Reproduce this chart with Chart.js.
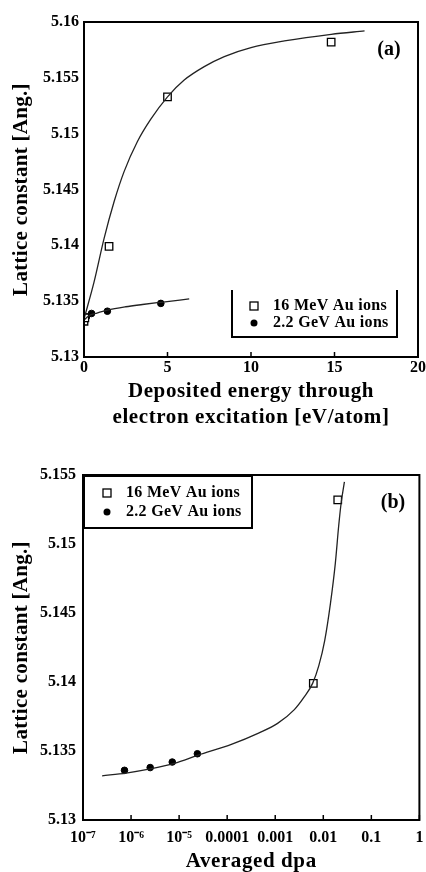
<!DOCTYPE html>
<html>
<head>
<meta charset="utf-8">
<script src="https://cdn.jsdelivr.net/npm/chart.js"></script>
<style>
  body { margin: 0; background: #fff; }
  canvas { display: block; }
</style>
</head>
<body>
<canvas id="chartA" width="426" height="436"></canvas>
<canvas id="chartB" width="426" height="436"></canvas>
<script>
// ---- panel (a) data ----
const energyMeV = [0, 0.05, 1.5, 5.0, 14.8];
const latticeMeV = [5.1332, 5.1335, 5.1399, 5.1533, 5.1582];
const energyGeV = [0, 0.15, 0.45, 1.4, 4.6];
const latticeGeV = [5.1334, 5.1336, 5.1339, 5.1341, 5.1348];
const fitMeVx = [0, 0.6, 1.2, 1.8, 2.4, 3.2, 4.0, 5.0, 6.0, 7.2, 8.4, 10, 12, 14.8, 16.8];
const fitMeVy = [5.1334, 5.1367, 5.1406, 5.1439, 5.1466, 5.1493, 5.1513, 5.1533, 5.1548, 5.1560, 5.1569, 5.1577, 5.1583, 5.1589, 5.1592];
const fitGeVx = [0, 0.3, 0.7, 1.4, 2.5, 3.5, 4.6, 6.3];
const fitGeVy = [5.1333, 5.1337, 5.1339, 5.1342, 5.1345, 5.1347, 5.1349, 5.1352];
const energyTicks = [0, 5, 10, 15, 20];
const latticeTicksA = [5.13, 5.135, 5.14, 5.145, 5.15, 5.155, 5.16];
const latticeLabelsA = ["5.13", "5.135", "5.14", "5.145", "5.15", "5.155", "5.16"];

// ---- panel (b) data ----
const dpaMeV = [0.0062, 0.020];
const latticeMeVb = [5.1399, 5.1532];
const dpaGeV = [7.3e-7, 2.5e-6, 7.2e-6, 2.4e-5];
const latticeGeVb = [5.1336, 5.1338, 5.1342, 5.1348];
const fitDpaX = [2.5e-7, 7.9e-7, 2.5e-6, 7.9e-6, 2.5e-5, 1.26e-4, 4.5e-4, 1.12e-3, 2.5e-3, 3.98e-3, 6.0e-3, 8.1e-3, 0.0107, 0.0141, 0.0178, 0.0209, 0.0234, 0.0275];
const fitDpaY = [5.1332, 5.1334, 5.1337, 5.1341, 5.1347, 5.1355, 5.1363, 5.1370, 5.1380, 5.1389, 5.1399, 5.1412, 5.1430, 5.1457, 5.1486, 5.1513, 5.1529, 5.1545];
const dpaTicks = [1e-7, 1e-6, 1e-5, 1e-4, 1e-3, 1e-2, 1e-1, 1];
const dpaTickLabels = ["10\u207B\u2077", "10\u207B\u2076", "10\u207B\u2075", "0.0001", "0.001", "0.01", "0.1", "1"];
const latticeTicksB = [5.13, 5.135, 5.14, 5.145, 5.15, 5.155];
const latticeLabelsB = ["5.13", "5.135", "5.14", "5.145", "5.15", "5.155"];

const legendLabels = ["16 MeV Au ions", "2.2 GeV Au ions"];

const SERIF = "'Liberation Serif', 'Times New Roman', serif";
const tickFont = { family: SERIF, size: 16, weight: "bold" };

const pts = (xs, ys) => xs.map((x, i) => ({ x, y: ys[i] }));

function fixedAxis(size, isX) {
  return (scale) => {
    if (isX) scale.height = size; else scale.width = size;
    scale.paddingLeft = 0; scale.paddingRight = 0;
    scale.paddingTop = 0; scale.paddingBottom = 0;
  };
}

// frame, inward ticks, axis titles, panel tag and legend
function decor(cfg) {
  return {
    id: "decor",
    afterDraw(chart) {
      const { ctx, chartArea: a, scales } = chart;
      ctx.save();
      ctx.strokeStyle = "#000";
      ctx.lineWidth = 2;
      ctx.strokeRect(a.left, a.top, a.right - a.left, a.bottom - a.top);
      // inward x ticks
      ctx.lineWidth = 1.5;
      scales.x.ticks.forEach((t) => {
        const px = scales.x.getPixelForValue(t.value);
        ctx.beginPath();
        ctx.moveTo(px, a.bottom);
        ctx.lineTo(px, a.bottom - 5);
        ctx.stroke();
      });
      ctx.fillStyle = "#000";
      ctx.textAlign = "center";
      ctx.textBaseline = "middle";
      ctx.letterSpacing = "0.6px";
      ctx.font = "bold 21px " + SERIF;
      const cx = (a.left + a.right) / 2;
      cfg.xTitle.forEach((line, i) => ctx.fillText(line, cx, cfg.xTitleY + i * 26));
      ctx.save();
      ctx.translate(22, (a.top + a.bottom) / 2);
      ctx.rotate(-Math.PI / 2);
      ctx.letterSpacing = "0.3px";
      ctx.fillText("Lattice constant [Ang.]", 0, 0);
      ctx.restore();
      ctx.letterSpacing = "0px";
      ctx.font = "bold 20px " + SERIF;
      ctx.fillText(cfg.tag, cfg.tagX, cfg.tagY);

      // legend
      const L = cfg.legend;
      ctx.fillStyle = "#fff";
      ctx.fillRect(L.x0, L.y0, L.x1 - L.x0, L.y1 - L.y0);
      ctx.strokeStyle = "#000";
      ctx.lineWidth = 2;
      ctx.beginPath();
      if (L.top) { ctx.moveTo(L.x0, L.y0); ctx.lineTo(L.x1, L.y0); }
      ctx.moveTo(L.x0, L.y0); ctx.lineTo(L.x0, L.y1); ctx.lineTo(L.x1, L.y1); ctx.lineTo(L.x1, L.y0);
      ctx.stroke();
      ctx.lineWidth = 1.3;
      ctx.strokeRect(L.mx - 4, L.rows[0] - 4, 8, 8);
      ctx.fillStyle = "#000";
      ctx.beginPath();
      ctx.arc(L.mx, L.rows[1], 3.5, 0, Math.PI * 2);
      ctx.fill();
      ctx.font = "bold 16px " + SERIF;
      ctx.letterSpacing = "0.3px";
      ctx.textAlign = "left";
      legendLabels.forEach((s, i) => ctx.fillText(s, L.tx, L.rows[i]));
      ctx.restore();
    }
  };
}

const lineStyle = { showLine: true, pointRadius: 0, borderColor: "#222", borderWidth: 1.3, cubicInterpolationMode: "monotone", fill: false };
const squareStyle = { pointStyle: "rect", pointRadius: 5.3, backgroundColor: "#fff", borderColor: "#000", pointBorderWidth: 1.3, showLine: false };
const dotStyle = { pointStyle: "circle", pointRadius: 3.3, backgroundColor: "#000", borderColor: "#000", pointBorderWidth: 1, showLine: false };

new Chart(document.getElementById("chartA"), {
  type: "scatter",
  data: {
    datasets: [
      { data: pts(fitMeVx, fitMeVy), ...lineStyle },
      { data: pts(fitGeVx, fitGeVy), ...lineStyle },
      { data: pts(energyMeV, latticeMeV), ...squareStyle },
      { data: pts(energyGeV, latticeGeV), ...dotStyle },
    ],
  },
  options: {
    responsive: false,
    animation: false,
    layout: { padding: { left: 0, right: 8, top: 22, bottom: 0 } },
    plugins: { legend: { display: false }, tooltip: { enabled: false } },
    scales: {
      x: {
        type: "linear", min: 0, max: 20,
        grid: { display: false, drawTicks: false }, border: { display: false },
        afterBuildTicks: (s) => { s.ticks = energyTicks.map((v) => ({ value: v })); },
        afterFit: fixedAxis(79, true),
        ticks: { font: tickFont, color: "#000", padding: 1, maxRotation: 0, autoSkip: false, callback: (v) => String(v) },
      },
      y: {
        min: 5.13, max: 5.16,
        grid: { display: false, drawTicks: false }, border: { display: false },
        afterBuildTicks: (s) => { s.ticks = latticeTicksA.map((v) => ({ value: v })); },
        afterFit: fixedAxis(84, false),
        ticks: { font: tickFont, color: "#000", padding: 5, autoSkip: false, callback: (v, i) => latticeLabelsA[i] },
      },
    },
  },
  plugins: [decor({
    xTitle: ["Deposited energy through", "electron excitation [eV/atom]"],
    xTitleY: 392, tag: "(a)", tagX: 389, tagY: 50,
    legend: { x0: 232, y0: 290, x1: 397, y1: 337, top: false, mx: 254, tx: 273, rows: [306, 323] },
  })],
});

new Chart(document.getElementById("chartB"), {
  type: "scatter",
  data: {
    datasets: [
      { data: pts(fitDpaX, fitDpaY), ...lineStyle },
      { data: pts(dpaMeV, latticeMeVb), ...squareStyle },
      { data: pts(dpaGeV, latticeGeVb), ...dotStyle },
    ],
  },
  options: {
    responsive: false,
    animation: false,
    layout: { padding: { left: 0, right: 3, top: 39, bottom: 0 } },
    plugins: { legend: { display: false }, tooltip: { enabled: false } },
    scales: {
      x: {
        type: "logarithmic", min: 1e-7, max: 1,
        grid: { display: false, drawTicks: false }, border: { display: false },
        afterBuildTicks: (s) => { s.ticks = dpaTicks.map((v) => ({ value: v })); },
        afterFit: fixedAxis(52, true),
        ticks: { font: tickFont, color: "#000", padding: 8, maxRotation: 0, autoSkip: false, callback: (v, i) => dpaTickLabels[i] },
      },
      y: {
        min: 5.13, max: 5.155,
        grid: { display: false, drawTicks: false }, border: { display: false },
        afterBuildTicks: (s) => { s.ticks = latticeTicksB.map((v) => ({ value: v })); },
        afterFit: fixedAxis(83, false),
        ticks: { font: tickFont, color: "#000", padding: 7, autoSkip: false, callback: (v, i) => latticeLabelsB[i] },
      },
    },
  },
  plugins: [decor({
    xTitle: ["Averaged dpa"],
    xTitleY: 426, tag: "(b)", tagX: 393, tagY: 67,
    legend: { x0: 84, y0: 40, x1: 252, y1: 92, top: true, mx: 107, tx: 126, rows: [57, 76] },
  })],
});
</script>
</body>
</html>
